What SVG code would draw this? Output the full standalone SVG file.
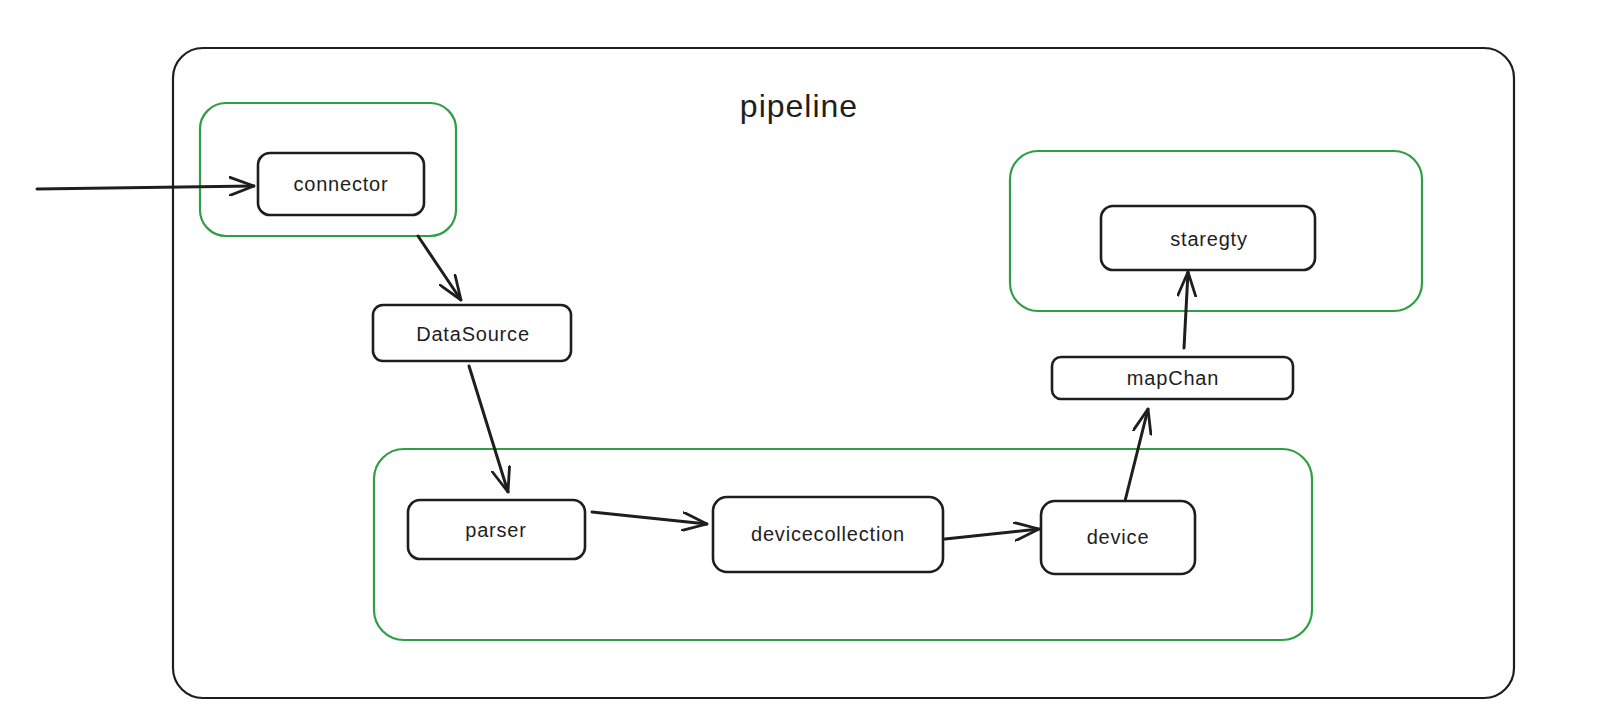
<svg xmlns="http://www.w3.org/2000/svg" width="1606" height="727" viewBox="0 0 1606 727">
<style>
.bg{fill:#ffffff}
.outer{fill:none;stroke:#1e1e1e;stroke-width:2.2}
.grp{fill:none;stroke:#2f9e44;stroke-width:2.2}
.node{fill:#ffffff;stroke:#1e1e1e;stroke-width:2.6}
.lbl{font-family:"Liberation Sans",Arial,sans-serif;font-size:20px;fill:#1e1e1e;text-anchor:middle;dominant-baseline:central;letter-spacing:0.8px}
.title{font-family:"Liberation Sans",Arial,sans-serif;font-size:32px;fill:#1e1e1e;text-anchor:middle;dominant-baseline:central;letter-spacing:1px}
.edge{fill:none;stroke:#1e1e1e;stroke-width:3;stroke-linecap:round}
</style>
<defs>
<marker id="arr" markerUnits="userSpaceOnUse" viewBox="0 0 26 20" refX="25" refY="10" markerWidth="26" markerHeight="20" orient="auto">
<path d="M1,1 L25,10 L1,19" fill="none" stroke="#1e1e1e" stroke-width="2.8" stroke-linecap="round" stroke-linejoin="round"/>
</marker>
</defs>
<rect class="bg" x="0" y="0" width="1606" height="727"/>
<g id="pipeline">
<rect class="outer" x="173" y="48" width="1341" height="650" rx="30"/>
<text class="title" x="799" y="106">pipeline</text>
</g>
<g id="group-connector">
<rect class="grp" x="200" y="103" width="256" height="133" rx="26"/>
</g>
<g id="group-processing">
<rect class="grp" x="374" y="449" width="938" height="191" rx="30"/>
</g>
<g id="group-strategy">
<rect class="grp" x="1010" y="151" width="412" height="160" rx="28"/>
</g>
<g id="connectors">
<path class="edge" d="M37,189 L254,186" marker-end="url(#arr)"/>
<path class="edge" d="M418,236 L461,300" marker-end="url(#arr)"/>
<path class="edge" d="M469,366 L508,492" marker-end="url(#arr)"/>
<path class="edge" d="M592,512 L707,524" marker-end="url(#arr)"/>
<path class="edge" d="M945,539 L1039,529" marker-end="url(#arr)"/>
<path class="edge" d="M1125,501 L1148,409" marker-end="url(#arr)"/>
<path class="edge" d="M1184,348 L1188,272" marker-end="url(#arr)"/>
</g>
<g id="node-connector">
<rect class="node" x="258" y="153" width="166" height="62" rx="12"/>
<text class="lbl" x="341" y="184">connector</text>
</g>
<g id="node-datasource">
<rect class="node" x="373" y="305" width="198" height="56" rx="10"/>
<text class="lbl" x="473" y="334">DataSource</text>
</g>
<g id="node-parser">
<rect class="node" x="408" y="500" width="177" height="59" rx="12"/>
<text class="lbl" x="496" y="530">parser</text>
</g>
<g id="node-devicecollection">
<rect class="node" x="713" y="497" width="230" height="75" rx="14"/>
<text class="lbl" x="828" y="534">devicecollection</text>
</g>
<g id="node-device">
<rect class="node" x="1041" y="501" width="154" height="73" rx="14"/>
<text class="lbl" x="1118" y="537">device</text>
</g>
<g id="node-mapchan">
<rect class="node" x="1052" y="357" width="241" height="42" rx="9"/>
<text class="lbl" x="1173" y="378">mapChan</text>
</g>
<g id="node-staregty">
<rect class="node" x="1101" y="206" width="214" height="64" rx="12"/>
<text class="lbl" x="1209" y="239">staregty</text>
</g>
</svg>
